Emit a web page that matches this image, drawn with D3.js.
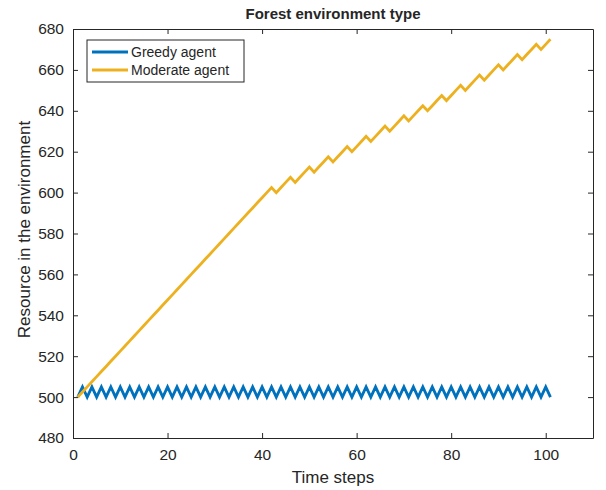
<!DOCTYPE html>
<html>
<head>
<meta charset="utf-8">
<script src="https://cdn.jsdelivr.net/npm/d3@7"></script>
<style>
  body { margin: 0; background: #fff; }
  text { font-family: "Liberation Sans", Arial, sans-serif; fill: #262626; }
</style>
</head>
<body>
<div id="chart-root"></div>
<script>
// data
var seriesNames = ["Greedy agent", "Moderate agent"];
var greedy = [
  500, 505, 500, 505, 500, 505, 500, 505, 500, 505,
  500, 505, 500, 505, 500, 505, 500, 505, 500, 505,
  500, 505, 500, 505, 500, 505, 500, 505, 500, 505,
  500, 505, 500, 505, 500, 505, 500, 505, 500, 505,
  500, 505, 500, 505, 500, 505, 500, 505, 500, 505,
  500, 505, 500, 505, 500, 505, 500, 505, 500, 505,
  500, 505, 500, 505, 500, 505, 500, 505, 500, 505,
  500, 505, 500, 505, 500, 505, 500, 505, 500, 505,
  500, 505, 500, 505, 500, 505, 500, 505, 500, 505,
  500, 505, 500, 505, 500, 505, 500, 505, 500, 505,
  500
];
var moderate = [
  500, 502.5, 505, 507.5, 510, 512.5, 515, 517.5, 520, 522.5,
  525, 527.5, 530, 532.5, 535, 537.5, 540, 542.5, 545, 547.5,
  550, 552.5, 555, 557.5, 560, 562.5, 565, 567.5, 570, 572.5,
  575, 577.5, 580, 582.5, 585, 587.5, 590, 592.5, 595, 597.5,
  600, 602.5,
  600, 602.5, 605, 607.5,
  605, 607.5, 610, 612.5,
  610, 612.5, 615, 617.5,
  615, 617.5, 620, 622.5,
  620, 622.5, 625, 627.5,
  625, 627.5, 630, 632.5,
  630, 632.5, 635, 637.5,
  635, 637.5, 640, 642.5,
  640, 642.5, 645, 647.5,
  645, 647.5, 650, 652.5,
  650, 652.5, 655, 657.5,
  655, 657.5, 660, 662.5,
  660, 662.5, 665, 667.5,
  665, 667.5, 670, 672.5,
  670, 672.5, 675
];
var steps = d3.range(1, greedy.length + 1);
var xTicks = [0, 20, 40, 60, 80, 100];
var yTicks = [480, 500, 520, 540, 560, 580, 600, 620, 640, 660, 680];
var colors = ["#0072BD", "#EDB120"];

(function () {
  var margin = { top: 29, left: 73, right: 13, bottom: 52 },
      width  = 606 - margin.left - margin.right,
      height = 490 - margin.top - margin.bottom;

  var svg = d3.select("#chart-root")
    .append("svg")
      .attr("width", 606)
      .attr("height", 490);

  var g = svg.append("g")
      .attr("transform", "translate(" + margin.left + "," + margin.top + ")");

  var x = d3.scaleLinear().domain([0, 110]).range([0, width]);
  var y = d3.scaleLinear().domain([480, 680]).range([height, 0]);

  // axes (ticks inward, box on)
  var axisColor = "#262626";
  function styleAxis(sel, showText) {
    sel.select(".domain").attr("stroke", axisColor).attr("stroke-width", 1);
    sel.selectAll(".tick line").attr("stroke", axisColor);
    sel.selectAll(".tick text").style("font-size", "15.5px").attr("fill", axisColor);
    if (!showText) sel.selectAll(".tick text").remove();
  }

  g.append("g")
    .attr("transform", "translate(0," + height + ")")
    .call(d3.axisBottom(x).tickValues(xTicks).tickSizeInner(-5).tickSizeOuter(0).tickPadding(11))
    .call(styleAxis, true);
  g.append("g")
    .call(d3.axisTop(x).tickValues(xTicks).tickSizeInner(-5).tickSizeOuter(0))
    .call(styleAxis, false);
  g.append("g")
    .call(d3.axisLeft(y).tickValues(yTicks).tickSizeInner(-5).tickSizeOuter(0).tickPadding(9))
    .call(styleAxis, true);
  g.append("g")
    .attr("transform", "translate(" + width + ",0)")
    .call(d3.axisRight(y).tickValues(yTicks).tickSizeInner(-5).tickSizeOuter(0))
    .call(styleAxis, false);

  // lines
  var line = d3.line()
    .x(function (d, i) { return x(steps[i]); })
    .y(function (d) { return y(d); });

  [greedy, moderate].forEach(function (s, k) {
    g.append("path")
      .datum(s)
      .attr("fill", "none")
      .attr("stroke", colors[k])
      .attr("stroke-width", 2.8)
      .attr("stroke-linejoin", "miter")
      .attr("d", line);
  });

  // title and labels
  svg.append("text")
    .attr("x", margin.left + width / 2)
    .attr("y", 19)
    .attr("text-anchor", "middle")
    .style("font-size", "15px")
    .style("font-weight", "bold")
    .attr("fill", "#000")
    .text("Forest environment type");

  svg.append("text")
    .attr("x", margin.left + width / 2)
    .attr("y", 483)
    .attr("text-anchor", "middle")
    .style("font-size", "17px")
    .text("Time steps");

  svg.append("text")
    .attr("transform", "translate(30," + (margin.top + height / 2 - 4) + ") rotate(-90)")
    .attr("text-anchor", "middle")
    .style("font-size", "17px")
    .text("Resource in the environment");

  // legend
  var lg = g.append("g").attr("transform", "translate(14,11)");
  lg.append("rect")
    .attr("width", 157)
    .attr("height", 42)
    .attr("fill", "#fff")
    .attr("stroke", axisColor)
    .attr("stroke-width", 1);
  seriesNames.forEach(function (name, k) {
    var row = lg.append("g").attr("transform", "translate(0," + (12 + k * 18) + ")");
    row.append("line")
      .attr("x1", 5).attr("x2", 41)
      .attr("stroke", colors[k])
      .attr("stroke-width", 2.8);
    row.append("text")
      .attr("x", 44)
      .attr("dy", "0.35em")
      .style("font-size", "14px")
      .text(name);
  });
})();
</script>
</body>
</html>
